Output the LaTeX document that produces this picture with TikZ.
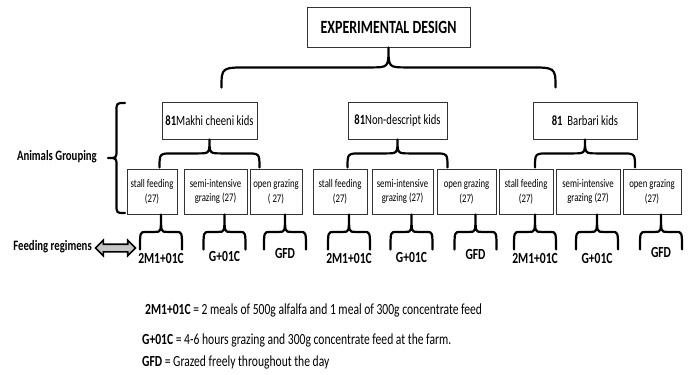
\documentclass[tikz,border=0pt]{standalone}
\usepackage{fontspec}
\setmainfont{Carlito}[FakeStretch=0.75]
\usetikzlibrary{calc}
\usetikzlibrary{shapes.arrows}
\usetikzlibrary{positioning}

% curly brace, tip at the origin, ends going down
\tikzset{
  brace line/.style={line width=2.2bp, line cap=round, line join=round},
  pics/curlybrace/.style args={#1/#2/#3/#4}{code={%
    \draw[brace line] ({-#1},{#2}) .. controls ({-#1},{0.5*#2}) .. ({-#1+#3},{0.5*#2})
      -- ({-#4},{0.5*#2}) .. controls (0,{0.5*#2}) .. (0,0)
      .. controls (0,{0.5*#2}) .. ({#4},{0.5*#2})
      -- ({#1-#3},{0.5*#2}) .. controls ({#1},{0.5*#2}) .. ({#1},{#2});
  }}
}

\begin{document}
\begin{tikzpicture}[x=1bp, y=-1bp]
  \tikzstyle{box} = [draw=black!80, line width=0.8bp, inner sep=1bp, align=center]
  \tikzstyle{subbox} = [box, minimum height=45bp, font=\fontsize{11.7}{15}\selectfont]
  \tikzstyle{groupbox} = [box, minimum height=37bp, font=\fontsize{14.2}{16}\selectfont]
  \tikzstyle{sidelabel} = [inner sep=0, font=\fontsize{14.4}{16}\selectfont\bfseries]
  \tikzstyle{regime} = [inner sep=0, font=\fontsize{15.5}{17}\selectfont\bfseries]
  \tikzstyle{legend} = [anchor=west, inner sep=0, font=\fontsize{15.5}{17}\selectfont]
  \def\bshift{9}          %braces under the boxes sit a bit to the right
  \useasboundingbox (0,0) rectangle (691,374);
% Title
  \node[box, minimum width=163bp, minimum height=40bp, font=\fontsize{18.7}{20}\selectfont\bfseries]
    (title) at (388.5,27) {EXPERIMENTAL DESIGN};
% Breeds
  \node[groupbox, minimum width=95bp] (g1) at (209.5,120.5) {{\bfseries 81}Makhi cheeni kids};
  \node[groupbox, minimum width=99bp] (g2) at (397.5,120.5) {{\bfseries 81}Non-descript kids};
  \node[groupbox, minimum width=104bp] (g3) at (585,120.5) {{\bfseries 81}\ \ Barbari kids};
  \pic at (title.south) {curlybrace=167/40/28/18};
  \pic at (g1.south) {curlybrace=50/28/14/12};
  \pic at (g2.south) {curlybrace=50/28/14/12};
  \pic at (g3.south) {curlybrace=50/28/14/12};
% Feeding systems
  \node[subbox, minimum width=50bp] (s1) at (152,191.5) {stall feeding\\(27)};
  \node[subbox, minimum width=63bp] (s2) at (215.5,191.5) {semi-intensive\\grazing (27)};
  \node[subbox, minimum width=52bp] (s3) at (276,191.5) {open grazing\\( 27)};
  \node[subbox, minimum width=54bp] (s4) at (340,191.5) {stall feeding\\(27)};
  \node[subbox, minimum width=61bp] (s5) at (402.5,191.5) {semi-intensive\\grazing (27)};
  \node[subbox, minimum width=59bp] (s6) at (466.5,191.5) {open grazing\\(27)};
  \node[subbox, minimum width=54bp] (s7) at (526,191.5) {stall feeding\\(27)};
  \node[subbox, minimum width=64bp] (s8) at (588,191.5) {semi-intensive\\grazing (27)};
  \node[subbox, minimum width=58bp] (s9) at (652,191.5) {open grazing\\(27)};
% Regimens
  \foreach \s/\lab/\dy in {s1/2M1+01C/44, s2/G+01C/42, s3/GFD/39,
                           s4/2M1+01C/44, s5/G+01C/43, s6/GFD/40,
                           s7/2M1+01C/44, s8/G+01C/44, s9/GFD/38}{
    \pic at ($(\s.south)+(\bshift,0)$) {curlybrace=21/35/6/6};
    \node[regime] (r-\s) at ($(\s.south)+(\bshift,\dy)$) {\lab};
  }
% Left side
  \node[sidelabel, anchor=east] (grouping) at (97,157) {Animals Grouping};
  \pic[rotate=90] at (108,158) {curlybrace=55/17/8/8};
  \node[sidelabel, anchor=east] (feeding) at (92,247) {Feeding regimens};
  \node[double arrow, draw, line width=1.6bp, fill=gray!45, minimum height=40bp,
        inner sep=3bp, double arrow head extend=4bp] (arr) at (115.5,248) {};
% Legend
  \node[legend] (l1) at (145,310) {\textbf{2M1+01C} = 2 meals of 500g alfalfa and 1 meal of 300g concentrate feed};
  \node[legend] (l2) at (142,340) {\textbf{G+01C} = 4-6 hours grazing and 300g concentrate feed at the farm.};
  \node[legend] (l3) at (142,362) {\textbf{GFD} = Grazed freely throughout the day};
\end{tikzpicture}
\end{document}
